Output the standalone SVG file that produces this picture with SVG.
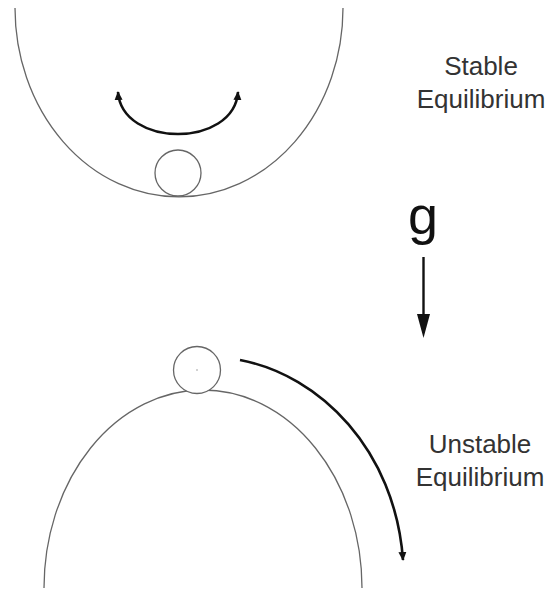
<svg xmlns="http://www.w3.org/2000/svg" width="550" height="603" viewBox="0 0 550 603">
<style>
.surf{fill:none;stroke:#666;stroke-width:1.3}
.ball{fill:#fff;stroke:#666;stroke-width:1.3}
.arr{fill:none;stroke:#111;stroke-width:2.6}
.lbl{font-family:"Liberation Sans",Arial,sans-serif;font-size:26px;fill:#333;text-anchor:middle}
</style>
<defs>
<marker id="ah" markerWidth="10" markerHeight="10" refX="8" refY="5" orient="auto-start-reverse" markerUnits="userSpaceOnUse" viewBox="0 0 10 10">
<path d="M0,1 L9,5 L0,9 Z" fill="#111"/>
</marker>
</defs>
<g id="stable-bowl">
<path class="surf" d="M15,8 A164,189 0 0 0 343,8"/>
</g>
<g id="stable-ball">
<circle class="ball" cx="178" cy="173" r="23"/>
</g>
<g id="unstable-hill">
<path class="surf" d="M44,588 A159,198 0 0 1 362,588"/>
</g>
<g id="unstable-ball">
<circle class="ball" cx="197" cy="370" r="23.5"/>
<circle cx="197" cy="370" r="0.8" fill="#999"/>
</g>
<g id="labels">
<text class="lbl" x="481" y="75">Stable</text>
<text class="lbl" x="481" y="108">Equilibrium</text>
<text class="lbl" x="480" y="453">Unstable</text>
<text class="lbl" x="480" y="486">Equilibrium</text>
<text x="423" y="234" font-family="'Liberation Sans',Arial,sans-serif" font-size="54" fill="#111" text-anchor="middle">g</text>
</g>
<g id="connectors">
<path class="arr" d="M118,92 C122,148 234,148 238,92" marker-start="url(#ah)" marker-end="url(#ah)"/>
<path class="arr" d="M240,360 C320,375 395,450 403,560" marker-end="url(#ah)"/>
<line x1="423.5" y1="257" x2="423.5" y2="318" stroke="#111" stroke-width="2.4"/>
<polygon points="417,314 430,314 423.5,338" fill="#111"/>
</g>
</svg>
